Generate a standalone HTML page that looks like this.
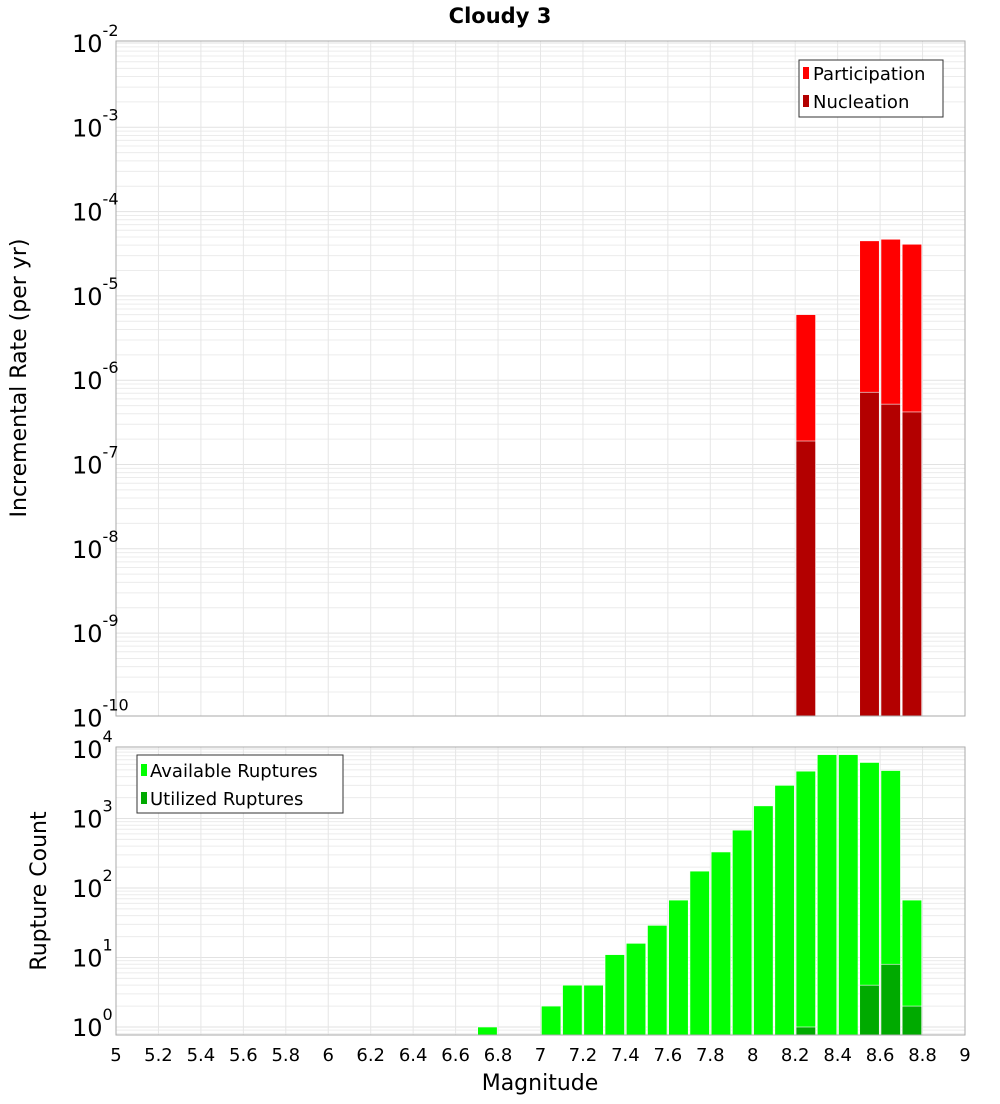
<!DOCTYPE html>
<html><head><meta charset="utf-8"><style>
body{margin:0;background:#fff;font-family:"DejaVu Sans","Liberation Sans",sans-serif}
svg text{font-family:"DejaVu Sans","Liberation Sans",sans-serif}
</style></head><body>
<svg id="c" width="1000" height="1100" xmlns="http://www.w3.org/2000/svg"></svg>
<script>
const binCenters=[6.75,7.05,7.15,7.25,7.35,7.45,7.55,7.65,7.75,7.85,7.95,8.05,8.15,8.25,8.35,8.45,8.55,8.65,8.75];
const available=[1,2,4,4,11,16,29,67,175,330,680,1520,3000,4800,8300,8300,6400,4900,67];
const utilizedMags=[8.25,8.55,8.65,8.75];
const utilized=[1,4,8,2];
const rateMags=[8.25,8.55,8.65,8.75];
const participation=[6e-6,4.5e-5,4.7e-5,4.1e-5];
const nucleation=[1.9e-7,7.2e-7,5.2e-7,4.2e-7];
const xTicks=[5,5.2,5.4,5.6,5.8,6,6.2,6.4,6.6,6.8,7,7.2,7.4,7.6,7.8,8,8.2,8.4,8.6,8.8,9];
const topExps=[-2,-3,-4,-5,-6,-7,-8,-9,-10];
const botExps=[0,1,2,3,4];

const svg=document.getElementById('c');const NS='http://www.w3.org/2000/svg';
function mk(t,a,p,txt){const e=document.createElementNS(NS,t);for(const k in a)e.setAttribute(k,a[k]);if(txt!==undefined)e.textContent=txt;(p||svg).appendChild(e);return e;}
const L=116,R=965;
const X=m=>L+(m-5)/4*(R-L);
// top axis
const T={top:41,bot:716,y0:43,dec:84.3,expTop:-2};
const yT=v=>T.y0+(T.expTop-Math.log10(v))*T.dec;
const B={top:747,bot:1035,y0:1027,dec:69.5};
const yB=v=>B.y0-Math.log10(v)*B.dec;
function grid(P,yf,eLo,eHi,name){
  const g=mk('g',{});
  for(let e=eLo;e<=eHi;e++)for(let k=1;k<10;k++){const y=yf(k*Math.pow(10,e));if(y<P.top||y>P.bot)continue;mk('line',{x1:L,x2:R,y1:y,y2:y,stroke:k==1?'#e2e2e2':'#ececec','stroke-width':1},g);}
  xTicks.forEach(t=>{const x=X(t);mk('line',{x1:x,x2:x,y1:P.top,y2:P.bot,stroke:'#e6e6e6','stroke-width':1},g);});
}
mk('rect',{x:L,y:T.top,width:R-L,height:T.bot-T.top,fill:'#fff'});
grid(T,yT,-11,-2,'top-grid');
mk('rect',{x:L,y:B.top,width:R-L,height:B.bot-B.top,fill:'#fff'});
grid(B,yB,-1,4,'bottom-grid');
const bw=(X(5.1)-X(5))*0.92;
function bar(m,yTop,ybot,fill,name){const r=mk('rect',{x:X(m)-bw/2,y:yTop,width:bw,height:Math.max(0,ybot-yTop),fill:fill,stroke:'#fff','stroke-width':0.6});}
rateMags.forEach((m,i)=>{bar(m,yT(participation[i]),T.bot,'#ff0000','participation-bar');});
rateMags.forEach((m,i)=>{bar(m,yT(nucleation[i]),T.bot,'#b30000','nucleation-bar');});
binCenters.forEach((m,i)=>{bar(m,yB(available[i]),B.bot,'#00ff00','available-bar');});
utilizedMags.forEach((m,i)=>{bar(m,yB(utilized[i]),B.bot,'#00aa00','utilized-bar');});
mk('rect',{x:L,y:T.top,width:R-L,height:T.bot-T.top,fill:'none',stroke:'#aaa','stroke-width':1});
mk('rect',{x:L,y:B.top,width:R-L,height:B.bot-B.top,fill:'none',stroke:'#aaa','stroke-width':1});
// y tick labels
function ylab(y,e,name){const t=mk('text',{x:72,y:y+9,'font-size':24,fill:'#000'});
 t.appendChild(document.createTextNode('10'));const s=mk('tspan',{'font-size':16,dy:-16},t,String(e));}
topExps.forEach(e=>ylab(yT(Math.pow(10,e)),e,'top-y-tick-label'));
botExps.forEach(e=>ylab(yB(Math.pow(10,e)),e,'bottom-y-tick-label'));
xTicks.forEach(t=>{const e=mk('text',{x:X(t),y:1061,'font-size':18,'text-anchor':'middle',fill:'#000'},null,String(t));});
</script>
<svg style="position:absolute;left:0;top:0" width="1000" height="1100" xmlns="http://www.w3.org/2000/svg">
<text x="500" y="23" font-size="21" font-weight="bold" text-anchor="middle">Cloudy 3</text>
<text transform="translate(26,378) rotate(-90)" font-size="22" text-anchor="middle">Incremental Rate (per yr)</text>
<text transform="translate(46,891) rotate(-90)" font-size="22" text-anchor="middle">Rupture Count</text>
<text x="540" y="1090" font-size="22" text-anchor="middle">Magnitude</text>
<g>
<rect x="799" y="60" width="144" height="57" fill="#fff" stroke="#333" stroke-width="1"/>
<rect x="803" y="67" width="6" height="12" fill="#ff0000"/><text x="813" y="80" font-size="18">Participation</text>
<rect x="803" y="95" width="6" height="12" fill="#b30000"/><text x="813" y="108" font-size="18">Nucleation</text>
</g>
<g>
<rect x="137" y="755" width="206" height="58" fill="#fff" stroke="#333" stroke-width="1"/>
<rect x="141" y="764" width="6" height="12" fill="#00ff00"/><text x="150" y="777" font-size="18">Available Ruptures</text>
<rect x="141" y="792" width="6" height="12" fill="#00aa00"/><text x="150" y="805" font-size="18">Utilized Ruptures</text>
</g>
</svg>
</body></html>
